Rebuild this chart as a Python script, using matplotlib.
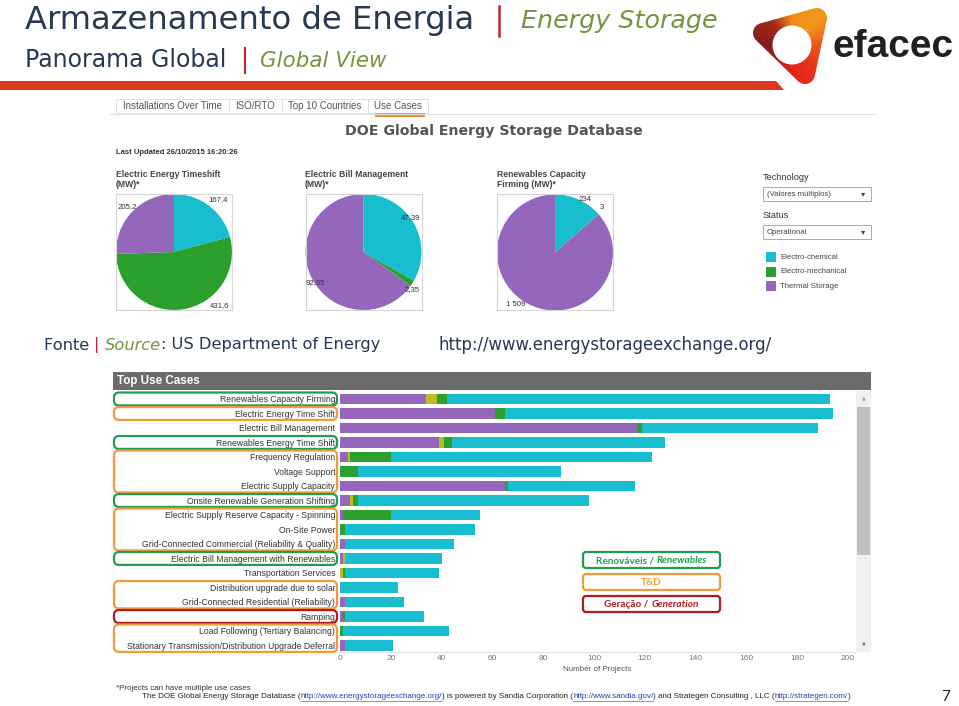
import matplotlib.pyplot as plt
import numpy as np
from matplotlib.patches import Rectangle, FancyBboxPatch, Polygon, Circle
from matplotlib.colors import LinearSegmentedColormap

W, H = 959, 706

# ---------------- data ----------------
tech_names = ['Electro-chemical', 'Electro-mechanical', 'Thermal Storage']
tech_colors = ['#17becf', '#2ca02c', '#9467bd']
hydrogen_color = '#bcbd22'

pie_titles = ['Electric Energy Timeshift\n(MW)*',
              'Electric Bill Management\n(MW)*',
              'Renewables Capacity\nFirming (MW)*']
# order: electro-chemical, electro-mechanical, thermal
pie_values = [[167.4, 431.6, 205.2],
              [47.39, 2.35, 92.65],
              [234, 3, 1509]]
pie_text = [['167,4', '431,6', '205,2'],
            ['47,39', '2,35', '92,65'],
            ['234', '3', '1 509']]

use_cases = [
    'Renewables Capacity Firming',
    'Electric Energy Time Shift',
    'Electric Bill Management',
    'Renewables Energy Time Shift',
    'Frequency Regulation',
    'Voltage Support',
    'Electric Supply Capacity',
    'Onsite Renewable Generation Shifting',
    'Electric Supply Reserve Capacity - Spinning',
    'On-Site Power',
    'Grid-Connected Commercial (Reliability & Quality)',
    'Electric Bill Management with Renewables',
    'Transportation Services',
    'Distribution upgrade due to solar',
    'Grid-Connected Residential (Reliability)',
    'Ramping',
    'Load Following (Tertiary Balancing)',
    'Stationary Transmission/Distribution Upgrade Deferral',
]
thermal = [34, 61, 117, 39, 3, 0, 65, 4, 1, 0, 2, 1, 0, 0, 2, 1, 0, 2]
hydrogen = [4, 0, 0, 2, 1, 0, 0, 1, 0, 0, 0, 1, 1, 0, 0, 0, 0, 0]
mechanical = [4, 4, 2, 3, 16, 7, 1, 2, 19, 2, 0, 0, 1, 0, 0, 1, 1, 0]
chemical = [151, 129, 69, 84, 103, 80, 50, 91, 35, 51, 43, 38, 37, 23, 23, 31, 42, 19]
xticks = list(range(0, 201, 20))

# groups of use cases (first row, last row, kind)
groups = [(0, 0, 'ren'), (1, 1, 'td'), (3, 3, 'ren'), (4, 6, 'td'), (7, 7, 'ren'),
          (8, 10, 'td'), (11, 11, 'ren'), (13, 14, 'td'), (15, 15, 'gen'), (16, 17, 'td')]
group_colors = {'ren': '#1e9e50', 'td': '#f39a3c', 'gen': '#b01c1c'}

navy = '#263852'
olive = '#77933c'
red = '#c0282d'
arial = 'Liberation Sans'

fig = plt.figure(figsize=(W / 100, H / 100), dpi=100)
fig.patch.set_facecolor('white')


def box(x0, y0, x1, y1):
    return [x0 / W, 1 - y1 / H, (x1 - x0) / W, (y1 - y0) / H]


ov = fig.add_axes([0, 0, 1, 1])
ov.set_xlim(0, W)
ov.set_ylim(H, 0)
ov.axis('off')

renderer = fig.canvas.get_renderer()


def text_width(ax, s, **kw):
    t = ax.text(0, 0, s + '|', **kw)
    w1 = t.get_window_extent(renderer).width
    t.set_text('|')
    w2 = t.get_window_extent(renderer).width
    t.remove()
    return w1 - w2


def rich(ax, x, y, parts, ha='left', size=10, family='DejaVu Sans'):
    widths = []
    for s, st in parts:
        st = {k: v for k, v in st.items() if k != 'ul'}
        widths.append(text_width(ax, s, fontsize=size, family=family, **st))
    if ha == 'center':
        x -= sum(widths) / 2
    for (s, st), w in zip(parts, widths):
        ul = st.get('ul', False)
        st = {k: v for k, v in st.items() if k != 'ul'}
        ax.text(x, y, s, fontsize=size, family=family, va='center', ha='left', **st)
        if ul:
            ax.plot([x, x + w], [y + size * 0.7, y + size * 0.7], color=st.get('color', 'k'), lw=0.4)
        x += w


# ---------------- header ----------------
ov.text(25, 20, 'Armazenamento de Energia', fontsize=23.2, color=navy, va='center')
ov.plot([499, 499], [6, 36], color=red, lw=1.8)
ov.text(521, 21, 'Energy Storage', fontsize=18.3, color=olive, style='italic', va='center')
ov.text(25, 60, 'Panorama Global', fontsize=17, color=navy, va='center')
ov.plot([245, 245], [48, 73], color=red, lw=1.5)
ov.text(260, 61, 'Global View', fontsize=15.4, color=olive, style='italic', va='center')
ov.add_patch(Polygon([(0, 81), (776, 81), (784, 90), (0, 90)], closed=True,
                     facecolor='#dc3a1e', edgecolor='none'))

# logo: rounded triangle with angular gradient and a white hole
tri = np.array([[763.0, 33.0], [817.0, 18.0], [805.0, 74.0]])
rad = 10.0
th = np.linspace(0, 2 * np.pi, 240)
outline = []
for a in th:
    u = np.array([np.cos(a), np.sin(a)])
    v = tri[np.argmax(tri @ u)]
    outline.append(v + rad * u)
logo_poly = Polygon(outline, closed=True, facecolor='none', edgecolor='none')
ov.add_patch(logo_poly)
c = (792, 45)
gx, gy = np.meshgrid(np.linspace(745, 835, 140), np.linspace(2, 92, 140))
ang = np.degrees(np.arctan2(-(gy - c[1]), gx - c[0])) % 360
logo_cmap = LinearSegmentedColormap.from_list('logo', [
    (0.0, '#ea561a'), (0.12, '#f39a1c'), (0.25, '#f08a1a'), (0.36, '#a8281a'),
    (0.5, '#7e1b18'), (0.64, '#b8201b'), (0.75, '#e3231b'), (0.87, '#e8331a'), (1.0, '#ea561a')])
img = ov.imshow(ang, extent=(745, 835, 92, 2), cmap=logo_cmap, vmin=0, vmax=360,
                origin='upper', aspect='auto', zorder=2)
img.set_clip_path(logo_poly)
ov.add_patch(Circle(c, 19.5, facecolor='white', edgecolor='none', zorder=3))
ov.set_xlim(0, W)
ov.set_ylim(H, 0)
ov.text(833, 47, 'efacec', fontsize=28, weight='bold', family=arial, color='#231f20', va='center')

# ---------------- dashboard screenshot ----------------
ov.plot([110, 876], [113.5, 113.5], color='#e3e3e3', lw=0.8)
tabs = ['Installations Over Time', 'ISO/RTO', 'Top 10 Countries', 'Use Cases']
tab_edges = [116, 229, 282, 368, 428]
for i, t in enumerate(tabs):
    ov.add_patch(Rectangle((tab_edges[i], 99), tab_edges[i + 1] - tab_edges[i], 14,
                           facecolor='white', edgecolor='#dddddd', lw=0.6))
    ov.text((tab_edges[i] + tab_edges[i + 1]) / 2, 106, t, fontsize=7.0, family=arial,
            color='#555555', ha='center', va='center')
ov.add_patch(Rectangle((375, 113), 50, 4, facecolor='#f28e2b', edgecolor='none'))

ov.text(345, 131, 'DOE Global Energy Storage Database', fontsize=10.2, weight='bold',
        color='#555555', va='center')
ov.text(116, 153, 'Last Updated 26/10/2015 16:20:26', fontsize=5.5, weight='bold',
        family=arial, color='#333333', va='center')

pie_boxes = [(116, 194, 232, 310), (305, 194, 422, 310), (497, 194, 613, 311)]
label_pos = [[(0.88, 0.955), (0.897, 0.035), (0.095, 0.888)],
             [(0.906, 0.80), (0.923, 0.18), (0.085, 0.233)],
             [(0.76, 0.955), (0.905, 0.888), (0.164, 0.052)]]
for k in range(3):
    x0, y0, x1, y1 = pie_boxes[k]
    ov.text(x0, 179.5, pie_titles[k], fontsize=6.2, weight='bold', family=arial,
            color='#444444', va='center', linespacing=1.25)
    pa = fig.add_axes(box(x0, y0, x1, y1))
    pa.pie(pie_values[k], colors=tech_colors, startangle=90, counterclock=False,
           radius=1, wedgeprops=dict(linewidth=0))
    pa.set_xlim(-1, 1)
    pa.set_ylim(-1, 1)
    pa.set_frame_on(True)
    for sp in pa.spines.values():
        sp.set_color('#d5d5d5')
        sp.set_linewidth(0.8)
    pa.set_xticks([])
    pa.set_yticks([])
    for (lx, ly), s in zip(label_pos[k], pie_text[k]):
        pa.text(lx, ly, s, transform=pa.transAxes, fontsize=5.6, family=arial,
                color='#333333', ha='center', va='center')

# filters and legend
ov.text(763, 177, 'Technology', fontsize=6.6, family=arial, color='#333333', va='center')
ov.add_patch(Rectangle((763, 187), 108, 14, facecolor='white', edgecolor='#aaaaaa', lw=0.7))
ov.text(767, 194, '(Valores múltiplos)', fontsize=5.6, family=arial, color='#444444', va='center')
ov.text(863, 194, '▾', fontsize=6, color='#444444', va='center', ha='center')
ov.text(763, 215.5, 'Status', fontsize=6.6, family=arial, color='#333333', va='center')
ov.add_patch(Rectangle((763, 225), 108, 14, facecolor='white', edgecolor='#aaaaaa', lw=0.7))
ov.text(767, 232, 'Operational', fontsize=5.6, family=arial, color='#444444', va='center')
ov.text(863, 232, '▾', fontsize=6, color='#444444', va='center', ha='center')
for i, (n, col) in enumerate(zip(tech_names, tech_colors)):
    yy = 257.3 + i * 14.5
    ov.add_patch(Rectangle((766, yy - 5), 10, 10, facecolor=col, edgecolor='none'))
    ov.text(780, yy, n, fontsize=5.6, family=arial, color='#444444', va='center')

# source line
rich(ov, 44, 345, [('Fonte ', {'color': navy}), ('| ', {'color': red}),
                   ('Source', {'color': olive, 'style': 'italic'}),
                   (': US Department of Energy', {'color': navy})], size=11.7)
ov.text(439, 345, 'http://www.energystorageexchange.org/', fontsize=11.9, color=navy, va='center')

# ---------------- bar chart ----------------
ov.add_patch(Rectangle((113, 372), 758, 18, facecolor='#6b6b6b', edgecolor='none'))
ov.text(117, 381, 'Top Use Cases', fontsize=8.4, weight='bold', family=arial,
        color='white', va='center')

bx = fig.add_axes(box(340, 391, 855, 652))
rows = list(range(len(use_cases)))
left = [0] * len(use_cases)
for vals, col in [(thermal, tech_colors[2]), (hydrogen, hydrogen_color),
                  (mechanical, tech_colors[1]), (chemical, tech_colors[0])]:
    bx.barh(rows, vals, left=left, color=col, height=0.7, linewidth=0)
    left = [a + b for a, b in zip(left, vals)]
bx.set_ylim(17.45, -0.55)
bx.set_xlim(0, 515 / 2.54)
bx.set_xticks(xticks)
bx.set_xticklabels([str(v) for v in xticks], fontsize=6.0, family=arial, color='#777777')
bx.set_yticks(rows)
bx.set_yticklabels(use_cases, fontsize=6.2, family=arial, color='#333333')
bx.tick_params(axis='both', length=0)
bx.tick_params(axis='y', pad=3.5)
bx.tick_params(axis='x', pad=2.5)
for s in ['top', 'right', 'left']:
    bx.spines[s].set_visible(False)
bx.spines['bottom'].set_color('#e0e0e0')
bx.set_xlabel('Number of Projects', fontsize=5.8, family=arial, color='#555555', labelpad=2.5)

# scroll bar
ov.add_patch(Rectangle((856, 391), 15, 261, facecolor='#f0f0f0', edgecolor='none'))
ov.add_patch(Rectangle((857, 407), 13, 148, facecolor='#c1c1c1', edgecolor='none'))
ov.text(863.5, 398, '▲', fontsize=3.5, color='#999999', ha='center', va='center')
ov.text(863.5, 644, '▼', fontsize=3.5, color='#777777', ha='center', va='center')

# ---------------- top overlay: group boxes and legend ----------------
top = fig.add_axes([0, 0, 1, 1])
top.set_xlim(0, W)
top.set_ylim(H, 0)
top.axis('off')


def row_px(v):
    return H - bx.transData.transform((0, v))[1]


for a, b, kind in groups:
    ya = row_px(a - 0.5) + 0.8
    yb = row_px(b + 0.5) - 0.8
    top.add_patch(FancyBboxPatch((114, ya), 223, yb - ya,
                                 boxstyle='round,pad=0,rounding_size=5',
                                 facecolor='none', edgecolor=group_colors[kind],
                                 lw=1.6, clip_on=False))

legend_rows = [
    ('ren', [('Renováveis / ', {'weight': 'bold'}), ('Renewables', {'weight': 'bold', 'style': 'italic'})]),
    ('td', [('T&D', {'weight': 'bold'})]),
    ('gen', [('Geração / ', {'weight': 'bold'}), ('Generation', {'weight': 'bold', 'style': 'italic'})]),
]
for i, (kind, parts) in enumerate(legend_rows):
    y0 = 552 + i * 22
    top.add_patch(FancyBboxPatch((583, y0), 137, 16,
                                 boxstyle='round,pad=0,rounding_size=3',
                                 facecolor='white', edgecolor=group_colors[kind], lw=1.6))
    col = group_colors[kind]
    rich(top, 651.5, y0 + 8.5, [(s, dict(st, color=col)) for s, st in parts],
         ha='center', size=7.2, family='Lato')

# ---------------- footer ----------------
ov.text(116, 689, '*Projects can have multiple use cases', fontsize=5.8, family=arial,
        color='#333333', va='center')
blue = '#1f3fbf'
rich(ov, 142, 697, [
    ('The DOE Global Energy Storage Database (', {'color': '#222222'}),
    ('http://www.energystorageexchange.org/', {'color': blue, 'ul': True}),
    (') is powered by Sandia Corporation (', {'color': '#222222'}),
    ('http://www.sandia.gov/', {'color': blue, 'ul': True}),
    (') and Strategen Consulting , LLC (', {'color': '#222222'}),
    ('http://strategen.com/', {'color': blue, 'ul': True}),
    (')', {'color': '#222222'}),
], size=5.75, family=arial)
ov.text(946, 697, '7', fontsize=11, family='Lato', color='#222222', ha='center', va='center')

fig.savefig('out.png', dpi=100, facecolor='white')
